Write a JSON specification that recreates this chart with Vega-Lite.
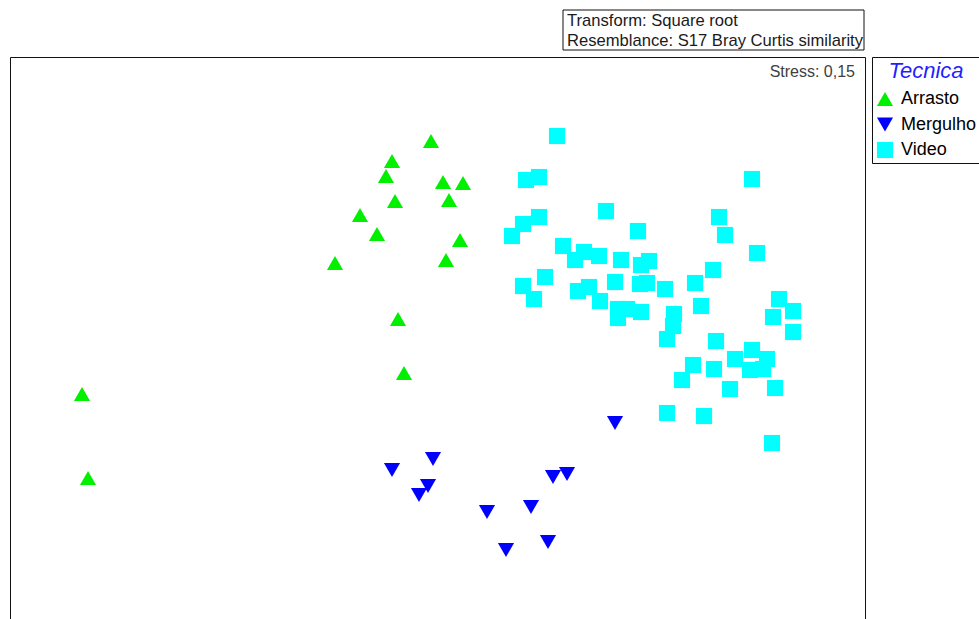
{
  "$schema": "https://vega.github.io/schema/vega-lite/v6.json",
  "width": 855,
  "height": 583,
  "autosize": {"type": "none"},
  "padding": {"left": 10, "top": 57, "right": 114, "bottom": 0},
  "background": "white",
  "config": {"font": "Liberation Sans", "view": {"stroke": "#111111", "strokeWidth": 1}},
  "layer": [
    {
      "data": {"values": [
        {"Tecnica": "Arrasto", "x": 421, "y": 499},
        {"Tecnica": "Arrasto", "x": 382, "y": 479},
        {"Tecnica": "Arrasto", "x": 376, "y": 464},
        {"Tecnica": "Arrasto", "x": 433, "y": 458},
        {"Tecnica": "Arrasto", "x": 453, "y": 457},
        {"Tecnica": "Arrasto", "x": 385, "y": 439},
        {"Tecnica": "Arrasto", "x": 439, "y": 440},
        {"Tecnica": "Arrasto", "x": 350, "y": 425},
        {"Tecnica": "Arrasto", "x": 367, "y": 406},
        {"Tecnica": "Arrasto", "x": 450, "y": 400},
        {"Tecnica": "Arrasto", "x": 325, "y": 377},
        {"Tecnica": "Arrasto", "x": 436, "y": 380},
        {"Tecnica": "Arrasto", "x": 388, "y": 321},
        {"Tecnica": "Arrasto", "x": 394, "y": 267},
        {"Tecnica": "Arrasto", "x": 72, "y": 246},
        {"Tecnica": "Arrasto", "x": 78, "y": 162},
        {"Tecnica": "Mergulho", "x": 605, "y": 217},
        {"Tecnica": "Mergulho", "x": 423, "y": 181},
        {"Tecnica": "Mergulho", "x": 382, "y": 170},
        {"Tecnica": "Mergulho", "x": 418, "y": 154},
        {"Tecnica": "Mergulho", "x": 409, "y": 145},
        {"Tecnica": "Mergulho", "x": 543, "y": 163},
        {"Tecnica": "Mergulho", "x": 557, "y": 166},
        {"Tecnica": "Mergulho", "x": 521, "y": 133},
        {"Tecnica": "Mergulho", "x": 477, "y": 128},
        {"Tecnica": "Mergulho", "x": 496, "y": 90},
        {"Tecnica": "Mergulho", "x": 538, "y": 98},
        {"Tecnica": "Video", "x": 547, "y": 504},
        {"Tecnica": "Video", "x": 516, "y": 460},
        {"Tecnica": "Video", "x": 529, "y": 463},
        {"Tecnica": "Video", "x": 742, "y": 461},
        {"Tecnica": "Video", "x": 596, "y": 429},
        {"Tecnica": "Video", "x": 529, "y": 423},
        {"Tecnica": "Video", "x": 513, "y": 416},
        {"Tecnica": "Video", "x": 709, "y": 423},
        {"Tecnica": "Video", "x": 502, "y": 404},
        {"Tecnica": "Video", "x": 628, "y": 409},
        {"Tecnica": "Video", "x": 715, "y": 405},
        {"Tecnica": "Video", "x": 747, "y": 387},
        {"Tecnica": "Video", "x": 553, "y": 394},
        {"Tecnica": "Video", "x": 565, "y": 380},
        {"Tecnica": "Video", "x": 574, "y": 388},
        {"Tecnica": "Video", "x": 589, "y": 384},
        {"Tecnica": "Video", "x": 611, "y": 380},
        {"Tecnica": "Video", "x": 631, "y": 375},
        {"Tecnica": "Video", "x": 639, "y": 379},
        {"Tecnica": "Video", "x": 535, "y": 363},
        {"Tecnica": "Video", "x": 513, "y": 354},
        {"Tecnica": "Video", "x": 524, "y": 341},
        {"Tecnica": "Video", "x": 605, "y": 358},
        {"Tecnica": "Video", "x": 630, "y": 356},
        {"Tecnica": "Video", "x": 637, "y": 357},
        {"Tecnica": "Video", "x": 655, "y": 351},
        {"Tecnica": "Video", "x": 685, "y": 357},
        {"Tecnica": "Video", "x": 703, "y": 370},
        {"Tecnica": "Video", "x": 568, "y": 349},
        {"Tecnica": "Video", "x": 579, "y": 353},
        {"Tecnica": "Video", "x": 590, "y": 339},
        {"Tecnica": "Video", "x": 608, "y": 331},
        {"Tecnica": "Video", "x": 608, "y": 322},
        {"Tecnica": "Video", "x": 617, "y": 331},
        {"Tecnica": "Video", "x": 631, "y": 328},
        {"Tecnica": "Video", "x": 664, "y": 326},
        {"Tecnica": "Video", "x": 663, "y": 314},
        {"Tecnica": "Video", "x": 657, "y": 301},
        {"Tecnica": "Video", "x": 691, "y": 334},
        {"Tecnica": "Video", "x": 769, "y": 341},
        {"Tecnica": "Video", "x": 783, "y": 329},
        {"Tecnica": "Video", "x": 763, "y": 323},
        {"Tecnica": "Video", "x": 783, "y": 308},
        {"Tecnica": "Video", "x": 706, "y": 299},
        {"Tecnica": "Video", "x": 742, "y": 290},
        {"Tecnica": "Video", "x": 725, "y": 281},
        {"Tecnica": "Video", "x": 757, "y": 281},
        {"Tecnica": "Video", "x": 740, "y": 270},
        {"Tecnica": "Video", "x": 753, "y": 271},
        {"Tecnica": "Video", "x": 683, "y": 275},
        {"Tecnica": "Video", "x": 704, "y": 271},
        {"Tecnica": "Video", "x": 672, "y": 260},
        {"Tecnica": "Video", "x": 720, "y": 251},
        {"Tecnica": "Video", "x": 765, "y": 252},
        {"Tecnica": "Video", "x": 657, "y": 227},
        {"Tecnica": "Video", "x": 694, "y": 224},
        {"Tecnica": "Video", "x": 762, "y": 197}
      ]},
      "mark": {"type": "point", "filled": true, "size": 260, "opacity": 1, "strokeWidth": 0},
      "encoding": {
        "x": {"field": "x", "type": "quantitative", "scale": {"domain": [0, 855], "nice": false, "zero": false}, "axis": null},
        "y": {"field": "y", "type": "quantitative", "scale": {"domain": [0, 583], "nice": false, "zero": false}, "axis": null},
        "shape": {
          "field": "Tecnica", "type": "nominal",
          "scale": {"domain": ["Arrasto", "Mergulho", "Video"], "range": ["triangle-up", "triangle-down", "square"]},
          "legend": {
            "orient": "none", "legendX": 862, "legendY": 0, "title": "Tecnica",
            "titleFontStyle": "italic", "titleFontSize": 22, "titleFontWeight": "normal", "titleColor": "#1f1fff",
            "titleAnchor": "middle", "titlePadding": 7, "labelFontSize": 18, "labelColor": "#000000", "labelOffset": 7,
            "symbolSize": 260, "rowPadding": 7.5, "padding": 4, "strokeColor": "#111111", "fillColor": "white",
            "symbolStrokeWidth": 0, "symbolOpacity": 1
          }
        },
        "color": {
          "field": "Tecnica", "type": "nominal",
          "scale": {"domain": ["Arrasto", "Mergulho", "Video"], "range": ["#00f000", "#0000ff", "#00ffff"]},
          "legend": {
            "orient": "none", "legendX": 862, "legendY": 0, "title": "Tecnica",
            "titleFontStyle": "italic", "titleFontSize": 22, "titleFontWeight": "normal", "titleColor": "#1f1fff",
            "titleAnchor": "middle", "titlePadding": 7, "labelFontSize": 18, "labelColor": "#000000", "labelOffset": 7,
            "symbolSize": 260, "rowPadding": 7.5, "padding": 4, "strokeColor": "#111111", "fillColor": "white",
            "symbolStrokeWidth": 0, "symbolOpacity": 1
          }
        }
      }
    },
    {
      "data": {"values": [{}]},
      "mark": {"type": "rect", "fill": "white", "stroke": "#111111", "strokeWidth": 1},
      "encoding": {"x": {"datum": 553}, "x2": {"datum": 854}, "y": {"datum": 630}, "y2": {"datum": 590}}
    },
    {
      "data": {"values": [{}]},
      "mark": {"type": "text", "align": "left", "baseline": "alphabetic", "fontSize": 16.6, "color": "#1a1a1a"},
      "encoding": {"x": {"datum": 557}, "y": {"datum": 614}, "text": {"value": "Transform: Square root"}}
    },
    {
      "data": {"values": [{}]},
      "mark": {"type": "text", "align": "left", "baseline": "alphabetic", "fontSize": 16.6, "color": "#1a1a1a"},
      "encoding": {"x": {"datum": 557}, "y": {"datum": 594}, "text": {"value": "Resemblance: S17 Bray Curtis similarity"}}
    },
    {
      "data": {"values": [{}]},
      "mark": {"type": "text", "align": "right", "baseline": "middle", "fontSize": 16, "color": "#404040"},
      "encoding": {"x": {"datum": 845}, "y": {"datum": 568}, "text": {"value": "Stress: 0,15"}}
    }
  ]
}
